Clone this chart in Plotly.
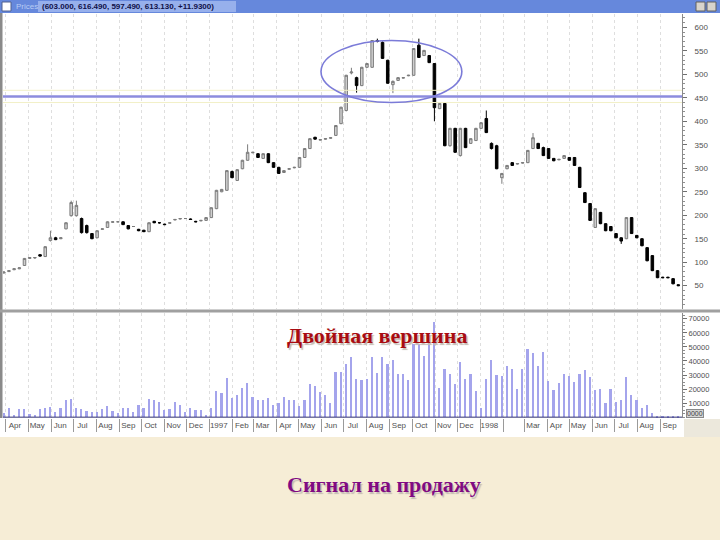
import pandas as pd
import plotly.graph_objects as go

# ---------------- data (weekly) ----------------
dates = pd.date_range("1996-03-29", periods=131, freq="7D")

opens = [77, 80, 84, 86, 93, 108, 109, 116, 112, 146,
         152, 150, 171, 199, 199, 193, 178, 161, 152, 170,
         174, 185, 186, 186, 178, 176, 170, 168, 165, 187,
         184, 181, 183, 190, 192, 193, 192, 187, 188, 189,
         195, 214, 250, 253, 293, 274, 299, 317, 333, 331,
         321, 331, 312, 302, 291, 298, 301, 302, 323, 342,
         366, 360, 362, 364, 370, 395, 423, 503, 493, 476,
         515, 515, 572, 568, 530, 478, 487, 492, 497, 498,
         562, 540, 540, 523, 427, 438, 348, 385, 327, 385,
         353, 359, 385, 406, 353, 348, 280, 299, 312, 309,
         311, 312, 342, 353, 344, 342, 321, 318, 321, 323,
         323, 302, 248, 225, 174, 206, 182, 176, 161, 152,
         150, 195, 157, 150, 131, 114, 82, 68, 68, 65, 52]
highs = [80, 83, 87, 89, 109, 111, 111, 117, 134, 167,
         154, 153, 185, 231, 231, 195, 180, 162, 168, 172,
         187, 187, 187, 187, 179, 177, 171, 169, 185, 188,
         185, 182, 185, 192, 194, 194, 193, 188, 190, 196,
         217, 254, 256, 296, 295, 298, 318, 351, 335, 332,
         332, 332, 313, 303, 296, 300, 303, 324, 343, 364,
         367, 362, 364, 366, 392, 431, 499, 514, 495, 516,
         524, 573, 576, 570, 531, 487, 494, 494, 499, 556,
         576, 552, 541, 524, 440, 439, 386, 386, 386, 386,
         364, 386, 398, 423, 355, 350, 290, 307, 313, 311,
         313, 339, 375, 354, 346, 343, 322, 320, 328, 324,
         324, 303, 249, 226, 215, 207, 183, 177, 162, 153,
         196, 196, 158, 151, 132, 115, 83, 69, 69, 66, 53]
lows = [76, 79, 83, 85, 92, 107, 107, 112, 111, 144,
        147, 149, 170, 197, 197, 161, 161, 149, 151, 169,
        173, 184, 185, 179, 170, 175, 166, 164, 164, 183,
        182, 179, 182, 189, 191, 192, 190, 185, 187, 188,
        194, 213, 249, 252, 279, 273, 298, 316, 332, 322,
        320, 311, 301, 288, 290, 297, 300, 301, 322, 341,
        361, 359, 361, 363, 369, 394, 421, 500, 461, 475,
        514, 514, 568, 533, 480, 460, 486, 491, 496, 497,
        535, 539, 524, 400, 426, 347, 346, 333, 325, 343,
        352, 358, 384, 375, 340, 298, 267, 298, 305, 308,
        310, 311, 341, 341, 326, 320, 315, 317, 320, 316,
        305, 258, 226, 188, 173, 181, 166, 166, 151, 139,
        149, 160, 151, 134, 102, 81, 66, 66, 66, 53, 49]
closes = [79, 82, 86, 88, 108, 110, 110, 113, 133, 152,
          148, 152, 184, 227, 221, 163, 163, 150, 167, 171,
          186, 186, 186, 180, 171, 176, 167, 165, 184, 184,
          184, 180, 184, 191, 193, 193, 191, 186, 189, 195,
          216, 253, 255, 295, 280, 297, 317, 334, 334, 323,
          331, 312, 302, 289, 295, 299, 302, 323, 342, 363,
          362, 361, 363, 365, 391, 430, 498, 505, 476, 515,
          523, 572, 570, 534, 481, 485, 493, 493, 498, 555,
          536, 551, 525, 429, 438, 348, 385, 334, 385, 344,
          363, 385, 397, 376, 342, 299, 289, 306, 306, 310,
          312, 338, 365, 342, 327, 321, 316, 319, 327, 317,
          306, 259, 227, 189, 214, 182, 167, 167, 152, 145,
          195, 161, 152, 135, 103, 82, 67, 67, 67, 54, 50]
volumes = [3000, 6300, 1550, 5600, 5600, 2500, 1550, 5600, 6300, 7400,
           3900, 6300, 12100, 13300, 6300, 5600, 4600, 3400, 3900, 5600,
           7900, 4600, 2700, 6300, 6300, 3900, 8600, 6300, 13300, 12100,
           10900, 5100, 5600, 10900, 8600, 3900, 6300, 5100, 5100, 1550,
           6300, 18700, 16900, 28200, 14000, 15700, 21100, 24400, 14500, 12600,
           12100, 14000, 8600, 9800, 14500, 12100, 12100, 7900, 12600, 23900,
           22000, 18000, 15700, 9800, 32100, 32100, 38000, 42700, 27500, 26300,
           27400, 43200, 31400, 43200, 38000, 40900, 31000, 30500, 26300, 52200,
           52200, 43900, 54500, 68100, 21100, 34500, 30500, 23900, 39200, 27400,
           31000, 18700, 6300, 27400, 40400, 29800, 29100, 36800, 34500, 20400,
           34000, 48700, 45600, 36800, 46300, 25800, 19200, 24300, 31000, 29100,
           25100, 31000, 33300, 28600, 19700, 20400, 9800, 20400, 11000, 12100,
           28600, 15700, 12100, 6300, 8600, 2700, 400, 200, 200, 200, 200]

month_ticks = ["1996-04-01", "1996-05-01", "1996-06-01", "1996-07-01", "1996-08-01",
               "1996-09-01", "1996-10-01", "1996-11-01", "1996-12-01", "1997-01-01",
               "1997-02-01", "1997-03-01", "1997-04-01", "1997-05-01", "1997-06-01",
               "1997-07-01", "1997-08-01", "1997-09-01", "1997-10-01", "1997-11-01",
               "1997-12-01", "1998-01-01", "1998-02-01", "1998-03-01", "1998-04-01",
               "1998-05-01", "1998-06-01", "1998-07-01", "1998-08-01", "1998-09-01"]
month_labels = ["Apr", "May", "Jun", "Jul", "Aug", "Sep", "Oct", "Nov", "Dec", "1997",
                "Feb", "Mar", "Apr", "May", "Jun", "Jul", "Aug", "Sep", "Oct", "Nov",
                "Dec", "1998", "", "Mar", "Apr", "May", "Jun", "Jul", "Aug", "Sep"]
volume_ticks = [10000, 20000, 30000, 40000, 50000, 60000, 70000]

neckline_price = 453
ellipse_dates = ["1997-05-31", "1997-12-07"]
ellipse_prices = [440, 572]
header_text = "(603.000, 616.490, 597.490, 613.130, +11.9300)"
volume_box_text = "0000"

# ---------------- figure ----------------
W, H = 720, 540
ML, MR, MT, MB = 3, 38, 14, 122
PW, PH = W - ML - MR, H - MT - MB


def px(xp):
    return (xp - ML) / PW


def py(yp):
    return (H - MB - yp) / PH


fig = go.Figure()

fig.add_trace(go.Candlestick(
    x=dates, open=opens, high=highs, low=lows, close=closes,
    xaxis="x2", yaxis="y",
    increasing=dict(line=dict(color="#7c7c7c", width=1), fillcolor="#cfcfcf"),
    decreasing=dict(line=dict(color="#000000", width=1), fillcolor="#000000"),
    whiskerwidth=0, showlegend=False, hoverinfo="skip",
))

fig.add_trace(go.Bar(
    x=dates, y=volumes, xaxis="x", yaxis="y2",
    marker=dict(color="#a4a4ec", line=dict(width=0)),
    width=2.3 * 86400000, showlegend=False, hoverinfo="skip",
))

shapes = []
# white chart screenshot area
shapes.append(dict(type="rect", xref="paper", yref="paper", layer="below",
                   x0=px(0), x1=px(720), y0=py(437), y1=py(0),
                   fillcolor="white", line=dict(width=0)))
# bottom-right grey corner of the screenshot
shapes.append(dict(type="rect", xref="paper", yref="paper", layer="below",
                   x0=px(684), x1=px(720), y0=py(437), y1=py(419),
                   fillcolor="#ece8dc", line=dict(width=0)))
# title bar
shapes.append(dict(type="rect", xref="paper", yref="paper",
                   x0=px(0), x1=px(720), y0=py(13), y1=py(0),
                   fillcolor="#6688dc", line=dict(width=0)))
shapes.append(dict(type="rect", xref="paper", yref="paper",
                   x0=px(38), x1=px(236), y0=py(12), y1=py(1),
                   fillcolor="#97b0ec", line=dict(width=0)))
shapes.append(dict(type="rect", xref="paper", yref="paper",
                   x0=px(2), x1=px(11), y0=py(11), y1=py(2),
                   fillcolor="#ffffff", line=dict(color="#506090", width=1)))
for bx in (696, 707):
    shapes.append(dict(type="rect", xref="paper", yref="paper",
                       x0=px(bx), x1=px(bx + 9), y0=py(11), y1=py(2),
                       fillcolor="#d8d4cc", line=dict(color="#606060", width=1)))
# left border
shapes.append(dict(type="rect", xref="paper", yref="paper",
                   x0=px(0), x1=px(2.5), y0=py(418), y1=py(13),
                   fillcolor="#8a8a8a", line=dict(width=0)))
# panel separator
shapes.append(dict(type="rect", xref="paper", yref="paper",
                   x0=px(0), x1=px(720), y0=py(312.5), y1=py(309.5),
                   fillcolor="#a0a0a0", line=dict(width=0)))
# faint highlight lines around the neckline
for off in (13, -13):
    shapes.append(dict(type="line", xref="paper", yref="y",
                       x0=0, x1=1, y0=neckline_price + off, y1=neckline_price + off,
                       line=dict(color="#f2f0c8", width=1)))
# neckline
shapes.append(dict(type="line", xref="paper", yref="y",
                   x0=0, x1=1, y0=neckline_price, y1=neckline_price,
                   line=dict(color="#8c8cde", width=2.5)))
# ellipse around the double top
shapes.append(dict(type="circle", xref="x2", yref="y",
                   x0=ellipse_dates[0], x1=ellipse_dates[1],
                   y0=ellipse_prices[0], y1=ellipse_prices[1],
                   line=dict(color="#7b7bd8", width=1.6)))
# volume baseline
shapes.append(dict(type="line", xref="paper", yref="y2",
                   x0=0, x1=1, y0=0, y1=0,
                   line=dict(color="#303070", width=1)))

annotations = []
annotations.append(dict(xref="paper", yref="paper", x=px(14), y=py(6.5),
                        text="Prices", showarrow=False, xanchor="left", yanchor="middle",
                        font=dict(family="Liberation Sans, Arial", size=8, color="#b8ccf4")))
annotations.append(dict(xref="paper", yref="paper", x=px(40), y=py(6.5),
                        text="<b>" + header_text + "</b>", showarrow=False,
                        xanchor="left", yanchor="middle",
                        font=dict(family="Liberation Sans, Arial", size=8, color="#101048")))
annotations.append(dict(xref="paper", yref="paper", x=px(686), y=py(413),
                        text=volume_box_text, showarrow=False,
                        xanchor="left", yanchor="middle",
                        bgcolor="#d6d6d6", bordercolor="#8a8a8a", borderwidth=1, borderpad=0,
                        font=dict(family="Liberation Sans, Arial", size=7, color="#404040")))


def big_text(txt, cx, cy, color):
    annotations.append(dict(xref="paper", yref="paper", x=px(cx), y=py(cy),
                            text="<b>" + txt + "</b>", showarrow=False,
                            xanchor="center", yanchor="middle",
                            font=dict(family="Liberation Serif, Times New Roman, serif",
                                      size=22, color=color,
                                      shadow="1.5px 1.5px 1px #c4bcb4")))


big_text("Двойная вершина", 377, 335, "#a80c12")
big_text("Сигнал на продажу", 384, 485, "#800a82")

axis_font = dict(family="Liberation Sans, Arial", size=8, color="#505050")

fig.update_layout(
    width=W, height=H,
    margin=dict(l=ML, r=MR, t=MT, b=MB),
    paper_bgcolor="#f6edd6",
    plot_bgcolor="white",
    shapes=shapes,
    annotations=annotations,
    bargap=0,
    xaxis=dict(
        domain=[0, 1], anchor="y2", type="date",
        range=["1996-03-28", "1998-09-30"],
        tickmode="array", tickvals=month_ticks, ticktext=month_labels,
        ticks="outside", ticklen=13, tickcolor="#9a9a9a", tickwidth=1,
        ticklabelshift=9, ticklabelstandoff=-14,
        tickfont=axis_font,
        showgrid=True, gridcolor="#dedede", griddash="dot", gridwidth=1,
        showline=False, zeroline=False,
        rangeslider=dict(visible=False),
    ),
    xaxis2=dict(
        domain=[0, 1], anchor="y", type="date", matches="x",
        tickmode="array", tickvals=month_ticks,
        showticklabels=False, ticks="",
        showgrid=True, gridcolor="#dedede", griddash="dot", gridwidth=1,
        showline=False, zeroline=False,
        rangeslider=dict(visible=False),
    ),
    yaxis=dict(
        domain=[0.27, 1], anchor="x2", side="right",
        range=[0.5, 628.5],
        tickmode="linear", tick0=50, dtick=50,
        ticks="outside", ticklen=4, tickcolor="#707070",
        minor=dict(dtick=10, tick0=0, ticks="outside", ticklen=2, tickcolor="#909090"),
        ticklabelstandoff=6,
        showline=True, linecolor="#8a8a8a", linewidth=1,
        showgrid=False, zeroline=False, tickfont=axis_font,
    ),
    yaxis2=dict(
        domain=[0, 0.26], anchor="x", side="right",
        range=[-600, 74200],
        tickmode="array", tickvals=volume_ticks, tickformat="d",
        ticks="outside", ticklen=4, tickcolor="#707070",
        minor=dict(dtick=2500, tick0=0, ticks="outside", ticklen=2, tickcolor="#909090"),
        showline=True, linecolor="#8a8a8a", linewidth=1,
        showgrid=False, zeroline=False,
        tickfont=dict(family="Liberation Sans, Arial", size=7.5, color="#505050"),
    ),
)

fig.write_html("out.html", config={"displayModeBar": False},
               post_script="document.body.style.margin='0';")
